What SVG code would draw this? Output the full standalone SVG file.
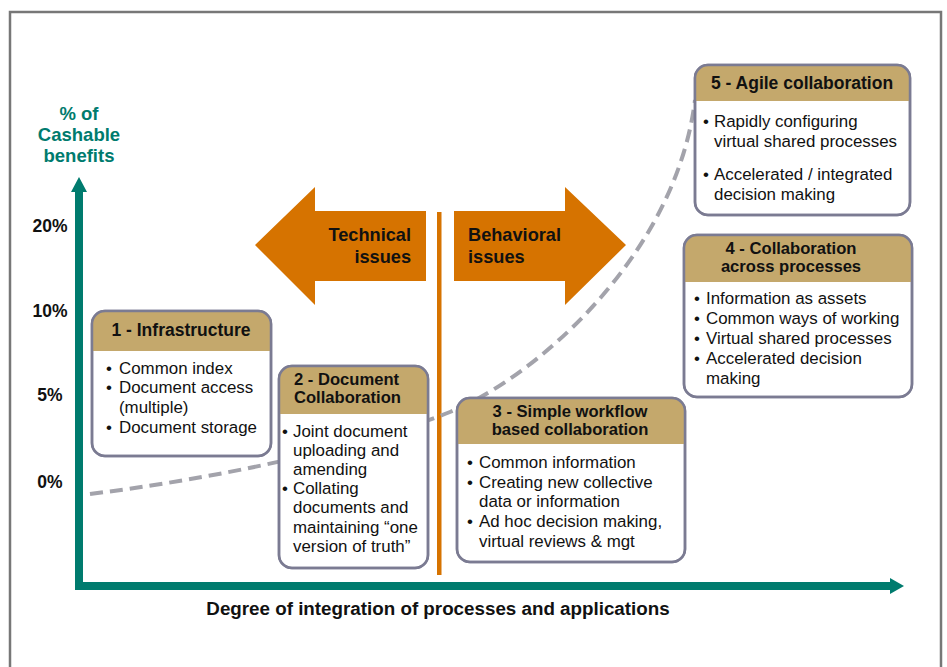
<svg xmlns="http://www.w3.org/2000/svg" width="947" height="667" viewBox="0 0 947 667">
<style>
.frame{fill:#fff;stroke:#777;stroke-width:2.5}
.box{fill:#fff;stroke:#7b7b92;stroke-width:2.5}
.hdr{fill:#c4a86c}
.t{font-family:"Liberation Sans",Arial,sans-serif;font-weight:bold;font-size:17.5px;fill:#111}
.t2{font-family:"Liberation Sans",Arial,sans-serif;font-weight:bold;font-size:16.6px;fill:#111}
.b{font-family:"Liberation Sans",Arial,sans-serif;font-size:16.9px;fill:#111}
.ax{font-family:"Liberation Sans",Arial,sans-serif;font-weight:bold;font-size:18.5px;fill:#007b6e}
.tk{font-family:"Liberation Sans",Arial,sans-serif;font-weight:bold;font-size:17.5px;fill:#111}
.ar{font-family:"Liberation Sans",Arial,sans-serif;font-weight:bold;font-size:18.2px;fill:#111}
.xl{font-family:"Liberation Sans",Arial,sans-serif;font-weight:bold;font-size:18.8px;fill:#111}
.c{text-anchor:middle}
.e{text-anchor:end}
.curve{fill:none;stroke:#a3a3ab;stroke-width:4;stroke-dasharray:13 7}
.orange{fill:#d67300}
.teal{fill:#007b6e}
.edge{fill:none;stroke:#7b7b92;stroke-width:2.5}
</style>
<defs>
<clipPath id="cb1"><rect x="92" y="311" width="179" height="145" rx="13"/></clipPath>
<clipPath id="cb2"><rect x="279" y="366" width="149" height="202" rx="13"/></clipPath>
<clipPath id="cb3"><rect x="457" y="398" width="228" height="164" rx="13"/></clipPath>
<clipPath id="cb4"><rect x="684" y="235" width="228" height="162" rx="13"/></clipPath>
<clipPath id="cb5"><rect x="695" y="65" width="215" height="150" rx="13"/></clipPath>
</defs>
<rect class="frame" x="10" y="12" width="931" height="700"/>

<g id="axes">
<path d="M79,192 V586 H892" fill="none" stroke="#007b6e" stroke-width="8" stroke-linejoin="miter"/>
<polygon class="teal" points="79,177 87,192 71,192"/>
<polygon class="teal" points="904,586 890,578 890,594"/>
<text class="ax c" x="79" y="120">% of</text>
<text class="ax c" x="79" y="141">Cashable</text>
<text class="ax c" x="79" y="162">benefits</text>
<text class="tk c" x="50" y="232">20%</text>
<text class="tk c" x="50" y="317">10%</text>
<text class="tk c" x="50" y="401">5%</text>
<text class="tk c" x="50" y="488">0%</text>
<text class="xl c" x="438" y="615">Degree of integration of processes and applications</text>
</g>

<g id="issues">
<polygon class="orange" points="255,245 315,187 315,211 426,211 426,281 315,281 315,305"/>
<polygon class="orange" points="626,245 565,187 565,211 454,211 454,281 565,281 565,305"/>
<rect class="orange" x="437" y="212" width="4.5" height="363"/>
<text class="ar e" x="411" y="241">Technical</text>
<text class="ar e" x="411" y="263">issues</text>
<text class="ar" x="468" y="241">Behavioral</text>
<text class="ar" x="468" y="263">issues</text>
</g>

<g id="connectors">
<path class="curve" d="M90,494 C250,474 380,440 450,412 C530,380 675,260 695,100"/>
</g>

<g id="stage1">
<rect class="box" x="92" y="311" width="179" height="145" rx="13"/>
<rect class="hdr" x="92" y="311" width="179" height="40" clip-path="url(#cb1)"/>
<rect class="edge" x="92" y="311" width="179" height="145" rx="13"/>
<text class="t c" x="181" y="336">1 - Infrastructure</text>
<text class="b" x="106" y="374">•</text><text class="b" x="119" y="374">Common index</text>
<text class="b" x="106" y="393">•</text><text class="b" x="119" y="393">Document access</text>
<text class="b" x="119" y="413">(multiple)</text>
<text class="b" x="106" y="433">•</text><text class="b" x="119" y="433">Document storage</text>
</g>

<g id="stage2">
<rect class="box" x="279" y="366" width="149" height="202" rx="13"/>
<rect class="hdr" x="279" y="366" width="149" height="48" clip-path="url(#cb2)"/>
<rect class="edge" x="279" y="366" width="149" height="202" rx="13"/>
<text class="t2" x="294" y="385">2 - Document</text>
<text class="t2" x="294" y="403">Collaboration</text>
<text class="b" x="282" y="437">•</text><text class="b" x="293" y="437">Joint document</text>
<text class="b" x="293" y="456">uploading and</text>
<text class="b" x="293" y="475">amending</text>
<text class="b" x="282" y="494">•</text><text class="b" x="293" y="494">Collating</text>
<text class="b" x="293" y="513">documents and</text>
<text class="b" x="293" y="533">maintaining “one</text>
<text class="b" x="293" y="552">version of truth”</text>
</g>

<g id="stage3">
<rect class="box" x="457" y="398" width="228" height="164" rx="13"/>
<rect class="hdr" x="457" y="398" width="228" height="46" clip-path="url(#cb3)"/>
<rect class="edge" x="457" y="398" width="228" height="164" rx="13"/>
<text class="t2 c" x="570" y="417">3 - Simple workflow</text>
<text class="t2 c" x="570" y="435">based collaboration</text>
<text class="b" x="467" y="468">•</text><text class="b" x="479" y="468">Common information</text>
<text class="b" x="467" y="488">•</text><text class="b" x="479" y="488">Creating new collective</text>
<text class="b" x="479" y="507">data or information</text>
<text class="b" x="467" y="527">•</text><text class="b" x="479" y="527">Ad hoc decision making,</text>
<text class="b" x="479" y="547">virtual reviews &amp; mgt</text>
</g>

<g id="stage4">
<rect class="box" x="684" y="235" width="228" height="162" rx="13"/>
<rect class="hdr" x="684" y="235" width="228" height="47" clip-path="url(#cb4)"/>
<rect class="edge" x="684" y="235" width="228" height="162" rx="13"/>
<text class="t2 c" x="791" y="254">4 - Collaboration</text>
<text class="t2 c" x="791" y="272">across processes</text>
<text class="b" x="694" y="304">•</text><text class="b" x="706" y="304">Information as assets</text>
<text class="b" x="694" y="324">•</text><text class="b" x="706" y="324">Common ways of working</text>
<text class="b" x="694" y="344">•</text><text class="b" x="706" y="344">Virtual shared processes</text>
<text class="b" x="694" y="364">•</text><text class="b" x="706" y="364">Accelerated decision</text>
<text class="b" x="706" y="384">making</text>
</g>

<g id="stage5">
<rect class="box" x="695" y="65" width="215" height="150" rx="13"/>
<rect class="hdr" x="695" y="65" width="215" height="36" clip-path="url(#cb5)"/>
<rect class="edge" x="695" y="65" width="215" height="150" rx="13"/>
<text class="t c" x="802" y="89">5 - Agile collaboration</text>
<text class="b" x="703" y="127">•</text><text class="b" x="714" y="127">Rapidly configuring</text>
<text class="b" x="714" y="147">virtual shared processes</text>
<text class="b" x="703" y="180">•</text><text class="b" x="714" y="180">Accelerated / integrated</text>
<text class="b" x="714" y="200">decision making</text>
</g>
</svg>
